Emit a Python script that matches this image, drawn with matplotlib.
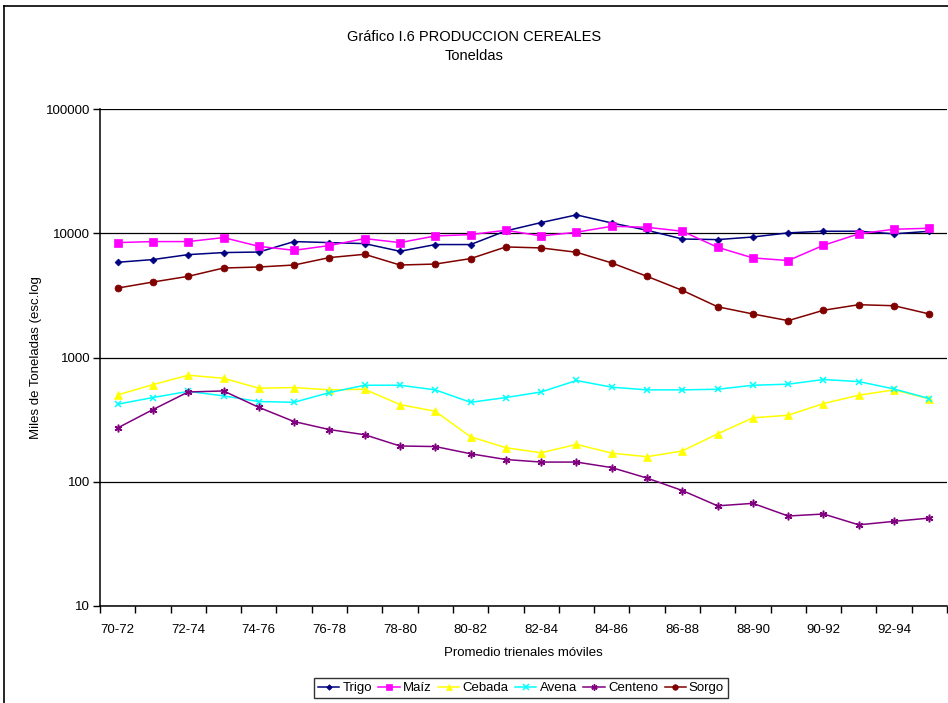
import matplotlib
matplotlib.use("Agg")
import matplotlib.pyplot as plt
from matplotlib.lines import Line2D
from matplotlib.ticker import FixedLocator, NullFormatter, NullLocator

plt.rcParams['font.family'] = ['Liberation Sans', 'DejaVu Sans']

# Datos (miles de toneladas, promedio trienal móvil)
periodos = ["70-72", "71-73", "72-74", "73-75", "74-76", "75-77", "76-78", "77-79",
            "78-80", "79-81", "80-82", "81-83", "82-84", "83-85", "84-86", "85-87",
            "86-88", "87-89", "88-90", "89-91", "90-92", "91-93", "92-94", "93-95"]

trigo = [5840, 6140, 6730, 6990, 7060, 8570, 8410, 8250, 7160, 8110, 8110, 10450,
         12190, 14050, 12100, 10570, 8990, 8890, 9330, 10070, 10380, 10380, 9890, 10380]
maiz = [8410, 8570, 8570, 9230, 7850, 7290, 7960, 9060, 8410, 9510, 9750, 10570,
        9510, 10190, 11380, 11170, 10380, 7710, 6330, 6030, 8000, 9890, 10770, 10970]
cebada = [500, 605, 720, 681, 566, 573, 549, 555, 418, 369, 230, 188,
          171, 200, 170, 159, 177, 243, 327, 343, 426, 497, 549, 464]
avena = [421, 476, 534, 491, 442, 436, 522, 598, 598, 549, 436, 476,
         528, 653, 577, 549, 549, 555, 598, 610, 665, 640, 558, 467]
centeno = [271, 381, 528, 538, 397, 305, 263, 239, 194, 192, 168, 151,
           144, 144, 130, 107, 85, 64, 67, 53, 55, 45, 48, 51]
sorgo = [3620, 4050, 4500, 5250, 5350, 5550, 6370, 6770, 5550, 5650, 6250, 7760,
         7620, 7030, 5770, 4500, 3470, 2560, 2240, 1980, 2400, 2660, 2610, 2240]

series = [
    ("Trigo", trigo, "#000080", "D", 3.5),
    ("Maíz", maiz, "#FF00FF", "s", 5.5),
    ("Cebada", cebada, "#FFFF00", "^", 6),
    ("Avena", avena, "#00FFFF", "x", 5),
    ("Centeno", centeno, "#800080", (6, 2, 0), 5.5),
    ("Sorgo", sorgo, "#800000", "o", 5),
]

fig = plt.figure(figsize=(9.48, 7.03), dpi=100)
ax = fig.add_axes([100 / 948, 97 / 703, 847 / 948, 497 / 703])

x = list(range(len(periodos)))
for nombre, valores, color, marca, tam in series:
    ax.plot(x, valores, color=color, marker=marca, markersize=tam, lw=1.1,
            markeredgewidth=1.1 if marca in ("x", (6, 2, 0)) else 0.5,
            label=nombre, zorder=3)

ax.set_yscale("log")
ax.set_ylim(10, 100000)
ax.set_xlim(-0.5, len(periodos) - 0.5)

ax.yaxis.set_major_locator(FixedLocator([10, 100, 1000, 10000, 100000]))
ax.yaxis.set_minor_locator(NullLocator())
ax.set_yticklabels(["10", "100", "1000", "10000", "100000"])
ax.grid(axis="y", color="black", lw=0.9, zorder=1)

# marcas del eje x entre categorías, etiquetas cada dos periodos
ax.xaxis.set_major_locator(FixedLocator([i - 0.5 for i in range(len(periodos) + 1)]))
ax.xaxis.set_major_formatter(NullFormatter())
ax.xaxis.set_minor_locator(FixedLocator(x[::2]))
ax.set_xticklabels(periodos[::2], minor=True)
ax.tick_params(axis="x", which="minor", length=0, pad=13, labelsize=9.5)
ax.tick_params(axis="x", which="major", length=5, direction="out", width=1)
ax.tick_params(axis="y", length=5, direction="out", width=1, labelsize=9.5, pad=2)

for lado in ("top", "right"):
    ax.spines[lado].set_visible(False)
for lado in ("left", "bottom"):
    ax.spines[lado].set_linewidth(1.1)

ax.set_ylabel("Miles de Toneladas (esc.log", fontsize=9.5, labelpad=3)
ax.set_xlabel("Promedio trienales móviles", fontsize=9.5, labelpad=8)

fig.text(0.5, 1 - 37 / 703, "Gráfico I.6 PRODUCCION CEREALES", ha="center", va="center", fontsize=10.5)
fig.text(0.5, 1 - 56 / 703, "Toneldas", ha="center", va="center", fontsize=10.5)

leg = fig.legend(loc="center", bbox_to_anchor=(521 / 948, 1 - 688 / 703), ncol=6,
                 fontsize=9.5, frameon=True, fancybox=False, edgecolor="black",
                 handlelength=1.6, handletextpad=0.25, columnspacing=0.5,
                 borderpad=0.3, borderaxespad=0, markerscale=0.8)
leg.get_frame().set_linewidth(1.0)

# borde exterior del área del gráfico
fig.add_artist(Line2D([4 / 948, 4 / 948], [0, 1 - 6 / 703], color="black", lw=1.2))
fig.add_artist(Line2D([4 / 948, 1], [1 - 6 / 703, 1 - 6 / 703], color="black", lw=1.2))

fig.savefig("out.png", dpi=100)
